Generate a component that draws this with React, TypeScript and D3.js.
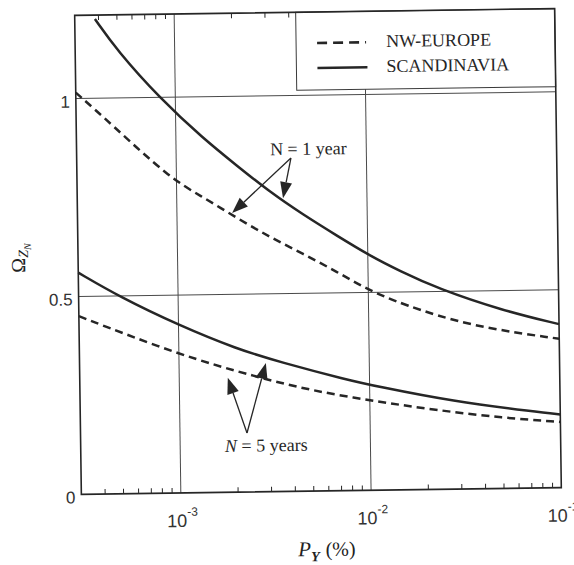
import React from 'react';
import * as d3 from 'd3';

// ---------------- data ----------------
const xDomain: [number, number] = [3e-4, 1e-1];
const yDomain: [number, number] = [0, 1.21];

const yTickValues = [0, 0.5, 1];
const yTickLabels = ['0', '0.5', '1'];
const xMajorTicks = [1e-3, 1e-2, 1e-1];
const xMajorLabels = ['-3', '-2', '-1'];
const yGridValues = [0.5, 1];
const xGridValues = [1e-3, 1e-2];

const scandN1P = [3.83e-4, 4.98e-4, 8.32e-4, 1.39e-3, 2.08e-3, 3.09e-3, 4.59e-3, 6.92e-3, 1.03e-2, 1.47e-2, 2.3e-2, 5.09e-2, 1e-1];
const scandN1V = [1.2, 1.12, 0.997, 0.895, 0.825, 0.757, 0.699, 0.644, 0.592, 0.553, 0.508, 0.449, 0.413];

const nweN1P = [3e-4, 4.52e-4, 9.25e-4, 1.37e-3, 2.07e-3, 3.07e-3, 4.56e-3, 6.87e-3, 1e-2, 1.52e-2, 3.4e-2, 1e-1];
const nweN1V = [1.015, 0.937, 0.795, 0.747, 0.692, 0.643, 0.6, 0.553, 0.506, 0.468, 0.411, 0.376];

const scandN5P = [3e-4, 4.95e-4, 1e-3, 2.02e-3, 3.4e-3, 7.6e-3, 1.1e-2, 2.7e-2, 7.5e-2, 1e-1];
const scandN5V = [0.56, 0.497, 0.424, 0.3615, 0.327, 0.28, 0.262, 0.222, 0.192, 0.185];

const nweN5P = [3e-4, 1e-3, 2.56e-3, 5.03e-3, 1.09e-2, 2.25e-2, 5e-2, 1e-1];
const nweN5V = [0.45, 0.349, 0.29, 0.253, 0.224, 0.2, 0.178, 0.166];

const legendNames = ['NW-EUROPE', 'SCANDINAVIA'];

// annotation anchors in data coordinates [P, value]
const ann1Text = 'N = 1 year';
const ann1Pos: [number, number] = [3.12e-3, 0.85];
const ann1Origin: [number, number] = [4.01e-3, 0.842];
const ann1Tips: [number, number][] = [[1.95e-3, 0.705], [3.62e-3, 0.741]];

const ann5Text = ' = 5 years';
const ann5Pos: [number, number] = [1.72e-3, 0.102];
const ann5Origin: [number, number] = [2.25e-3, 0.149];
const ann5Tips: [number, number][] = [[1.8e-3, 0.289], [2.86e-3, 0.325]];

// ---------------- layout ----------------
const W = 574;
const H = 565;
const L = 78, R = 558, T = 12, B = 491;
const INK = '#262626';
const SERIF = '"Liberation Serif", "Times New Roman", serif';
const SANS = '"Liberation Sans", Arial, sans-serif';

export default function App() {
  const x = d3.scaleLog().domain(xDomain).range([L, R]);
  const y = d3.scaleLinear().domain(yDomain).range([B, T]);

  const line = d3
    .line<[number, number]>()
    .x((d) => x(d[0]))
    .y((d) => y(d[1]))
    .curve(d3.curveBasis);

  const zip = (p: number[], v: number[]) => p.map((pp, i) => [pp, v[i]] as [number, number]);

  const series = [
    { d: zip(scandN1P, scandN1V), dash: undefined },
    { d: zip(nweN1P, nweN1V), dash: '8,5' },
    { d: zip(scandN5P, scandN5V), dash: undefined },
    { d: zip(nweN5P, nweN5V), dash: '8,5' },
  ];

  // minor ticks
  const minor: number[] = [];
  [1e-4, 1e-3, 1e-2].forEach((dec) => {
    for (let k = 2; k <= 9; k++) {
      const v = k * dec;
      if (v > xDomain[0] * 1.0001 && v < xDomain[1] * 0.9999) minor.push(v);
    }
  });

  const arrow = (o: [number, number], t: [number, number], key: string) => {
    const ox = x(o[0]), oy = y(o[1]);
    const tx = x(t[0]), ty = y(t[1]);
    const dx = tx - ox, dy = ty - oy;
    const len = Math.hypot(dx, dy);
    const ux = dx / len, uy = dy / len;
    const hl = 16, hw = 6;
    const bx = tx - ux * hl, by = ty - uy * hl;
    const pts = [
      [tx, ty],
      [bx - uy * hw, by + ux * hw],
      [bx + uy * hw, by - ux * hw],
    ];
    return (
      <g key={key}>
        <line x1={ox} y1={oy} x2={bx} y2={by} stroke={INK} strokeWidth={1.3} />
        <polygon points={pts.map((p) => p.join(',')).join(' ')} fill={INK} />
      </g>
    );
  };

  const legX = 299;
  const legB = 90;

  return (
    <svg
      width={W}
      height={H}
      style={{ position: 'absolute', left: 0, top: 0, background: '#fff' }}
    >
      <rect x={0} y={0} width={W} height={H} fill="#fff" />
      <g transform="rotate(-0.8, 318, 252)">
        {/* gridlines */}
        {xGridValues.map((v) => (
          <line key={'gx' + v} x1={x(v)} x2={x(v)} y1={T} y2={B} stroke="#4a4a4a" strokeWidth={1} />
        ))}
        {yGridValues.map((v) => (
          <line key={'gy' + v} x1={L} x2={R} y1={y(v)} y2={y(v)} stroke="#4a4a4a" strokeWidth={1} />
        ))}

        {/* minor ticks top & bottom */}
        {minor.map((v) => (
          <g key={'m' + v}>
            <line x1={x(v)} x2={x(v)} y1={B} y2={B - 5} stroke={INK} strokeWidth={1} />
            <line x1={x(v)} x2={x(v)} y1={T} y2={T + 5} stroke={INK} strokeWidth={1} />
          </g>
        ))}

        {/* curves */}
        {series.map((s, i) => (
          <path
            key={'s' + i}
            d={line(s.d) || ''}
            fill="none"
            stroke={INK}
            strokeWidth={2.5}
            strokeDasharray={s.dash}
          />
        ))}

        {/* legend */}
        <rect x={legX} y={T} width={R - legX} height={legB - T} fill="#fff" stroke="#3a3a3a" strokeWidth={1} />
        <line x1={320} x2={369} y1={43} y2={43} stroke={INK} strokeWidth={2.6} strokeDasharray="10,6" />
        <line x1={320} x2={370} y1={68} y2={68} stroke={INK} strokeWidth={2.4} />
        <text x={389} y={48} fontFamily={SERIF} fontSize={18} fill={INK}>
          {legendNames[0]}
        </text>
        <text x={389} y={73} fontFamily={SERIF} fontSize={18} fill={INK}>
          {legendNames[1]}
        </text>

        {/* frame */}
        <rect x={L} y={T} width={R - L} height={B - T} fill="none" stroke={INK} strokeWidth={1.6} />

        {/* y tick labels */}
        {yTickValues.map((v, i) => (
          <text
            key={'yl' + v}
            x={72}
            y={y(v) + 9}
            textAnchor="end"
            fontFamily={SANS}
            fontSize={17}
            fill="#333"
          >
            {yTickLabels[i]}
          </text>
        ))}

        {/* x tick labels */}
        {xMajorTicks.map((v, i) => (
          <text key={'xl' + v} x={x(v) - 14} y={525} fontFamily={SANS} fontSize={18} fill="#333">
            10
            <tspan dy={-11} fontSize={12}>
              {xMajorLabels[i]}
            </tspan>
          </text>
        ))}

        {/* axis titles */}
        <text x={(L + R) / 2 - 24} y={556} fontFamily={SERIF} fill="#222">
          <tspan fontSize={21} fontStyle="italic">P</tspan>
          <tspan fontSize={14} fontStyle="italic" fontWeight="bold" dy={5}>Y</tspan>
          <tspan fontSize={20} dy={-5} dx={6}>(%)</tspan>
        </text>
        <text
          transform="translate(25, 254) rotate(-90)"
          textAnchor="middle"
          fontFamily={SERIF}
          fill="#222"
        >
          <tspan fontSize={20}>Ω</tspan>
          <tspan fontSize={14} fontStyle="italic" dy={3}>Z</tspan>
          <tspan fontSize={10} fontStyle="italic" dy={3}>N</tspan>
        </text>

        {/* annotations */}
        <text x={x(ann1Pos[0])} y={y(ann1Pos[1])} fontFamily={SERIF} fontSize={18} fill={INK}>
          {ann1Text}
        </text>
        {ann1Tips.map((t, i) => arrow(ann1Origin, t, 'a1' + i))}
        <text x={x(ann5Pos[0])} y={y(ann5Pos[1])} fontFamily={SERIF} fontSize={18} fill={INK}>
          <tspan fontStyle="italic">N</tspan>
          {ann5Text}
        </text>
        {ann5Tips.map((t, i) => arrow(ann5Origin, t, 'a5' + i))}
      </g>
    </svg>
  );
}
